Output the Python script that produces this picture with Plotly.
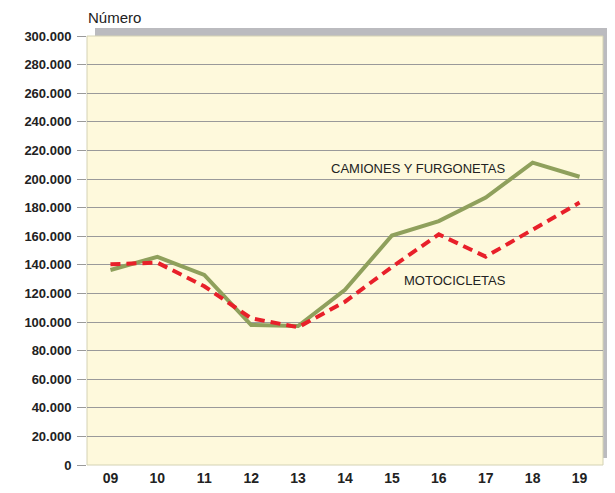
import plotly.graph_objects as go

years = ["09", "10", "11", "12", "13", "14", "15", "16", "17", "18", "19"]
camiones = [136400, 145500, 132900, 97900, 97200, 122500, 160500, 170600, 187000, 211400, 201600]
motos = [140400, 141500, 125000, 102600, 96300, 114200, 138500, 161300, 145700, 164500, 183500]
y_ticks = list(range(0, 300001, 20000))

# page body has an 8px margin: size the figure so the plot area lands at x 87..603, y 36..465
OFF = 8
PL, PR, PT, PB = 87, 603, 36, 465
PW, PH = PR - PL, PB - PT


def px(x):
    return (x - PL) / PW


def py(y):
    return (PB - y) / PH


FONT = "Arial, Liberation Sans"

fig = go.Figure()
fig.add_trace(go.Scatter(x=years, y=camiones, mode="lines", name="CAMIONES Y FURGONETAS",
                         line=dict(color="#8FA05C", width=4), hoverinfo="skip"))
fig.add_trace(go.Scatter(x=years, y=motos, mode="lines", name="MOTOCICLETAS",
                         line=dict(color="#E8202A", width=4, dash="10px,6px"), hoverinfo="skip"))

# shadow and background
fig.add_shape(type="rect", xref="paper", yref="paper", x0=px(95), x1=px(611), y0=py(458), y1=py(28),
              fillcolor="#BBBBBF", line=dict(width=0), layer="below")
fig.add_shape(type="rect", xref="paper", yref="paper", x0=0, x1=1, y0=0, y1=1,
              fillcolor="#FEF9DC", line=dict(color="#D4D2B4", width=1), layer="below")

fig.add_annotation(x=px(507), y=py(168), xref="paper", yref="paper", text="CAMIONES Y FURGONETAS",
                   xanchor="right", yanchor="middle",
                   showarrow=False, font=dict(family=FONT, size=13, color="#222"))
fig.add_annotation(x=px(508), y=py(280), xref="paper", yref="paper", text="MOTOCICLETAS",
                   xanchor="right", yanchor="middle",
                   showarrow=False, font=dict(family=FONT, size=13, color="#222"))
fig.add_annotation(x=px(86), y=py(17), xref="paper", yref="paper", text="Número",
                   xanchor="left", yanchor="middle", showarrow=False,
                   font=dict(family=FONT, size=15, color="#222"))

fig.update_layout(
    width=615 - OFF, height=493 - OFF,
    margin=dict(l=PL - OFF, r=615 - PR, t=PT - OFF, b=493 - PB),
    paper_bgcolor="white", plot_bgcolor="rgba(0,0,0,0)",
    showlegend=False,
    separators=",.",
    font=dict(family=FONT, color="#222"),
)
fig.update_xaxes(range=[-0.5, 10.5], showgrid=False, zeroline=False, showline=False, ticks="",
                 tickfont=dict(size=14, family=FONT, weight="bold", color="#222"),
                 ticklabelstandoff=3, automargin=False)
fig.update_yaxes(range=[0, 300000], tickvals=y_ticks, tickformat=",d", showgrid=True, gridcolor="#9A9A9A",
                 gridwidth=1, zeroline=False, showline=False, ticks="outside", ticklen=9, tickcolor="#9A9A9A",
                 tickfont=dict(size=13, family=FONT, weight="bold", color="#222"),
                 ticklabelstandoff=3, automargin=False)

fig.write_html("out.html")
